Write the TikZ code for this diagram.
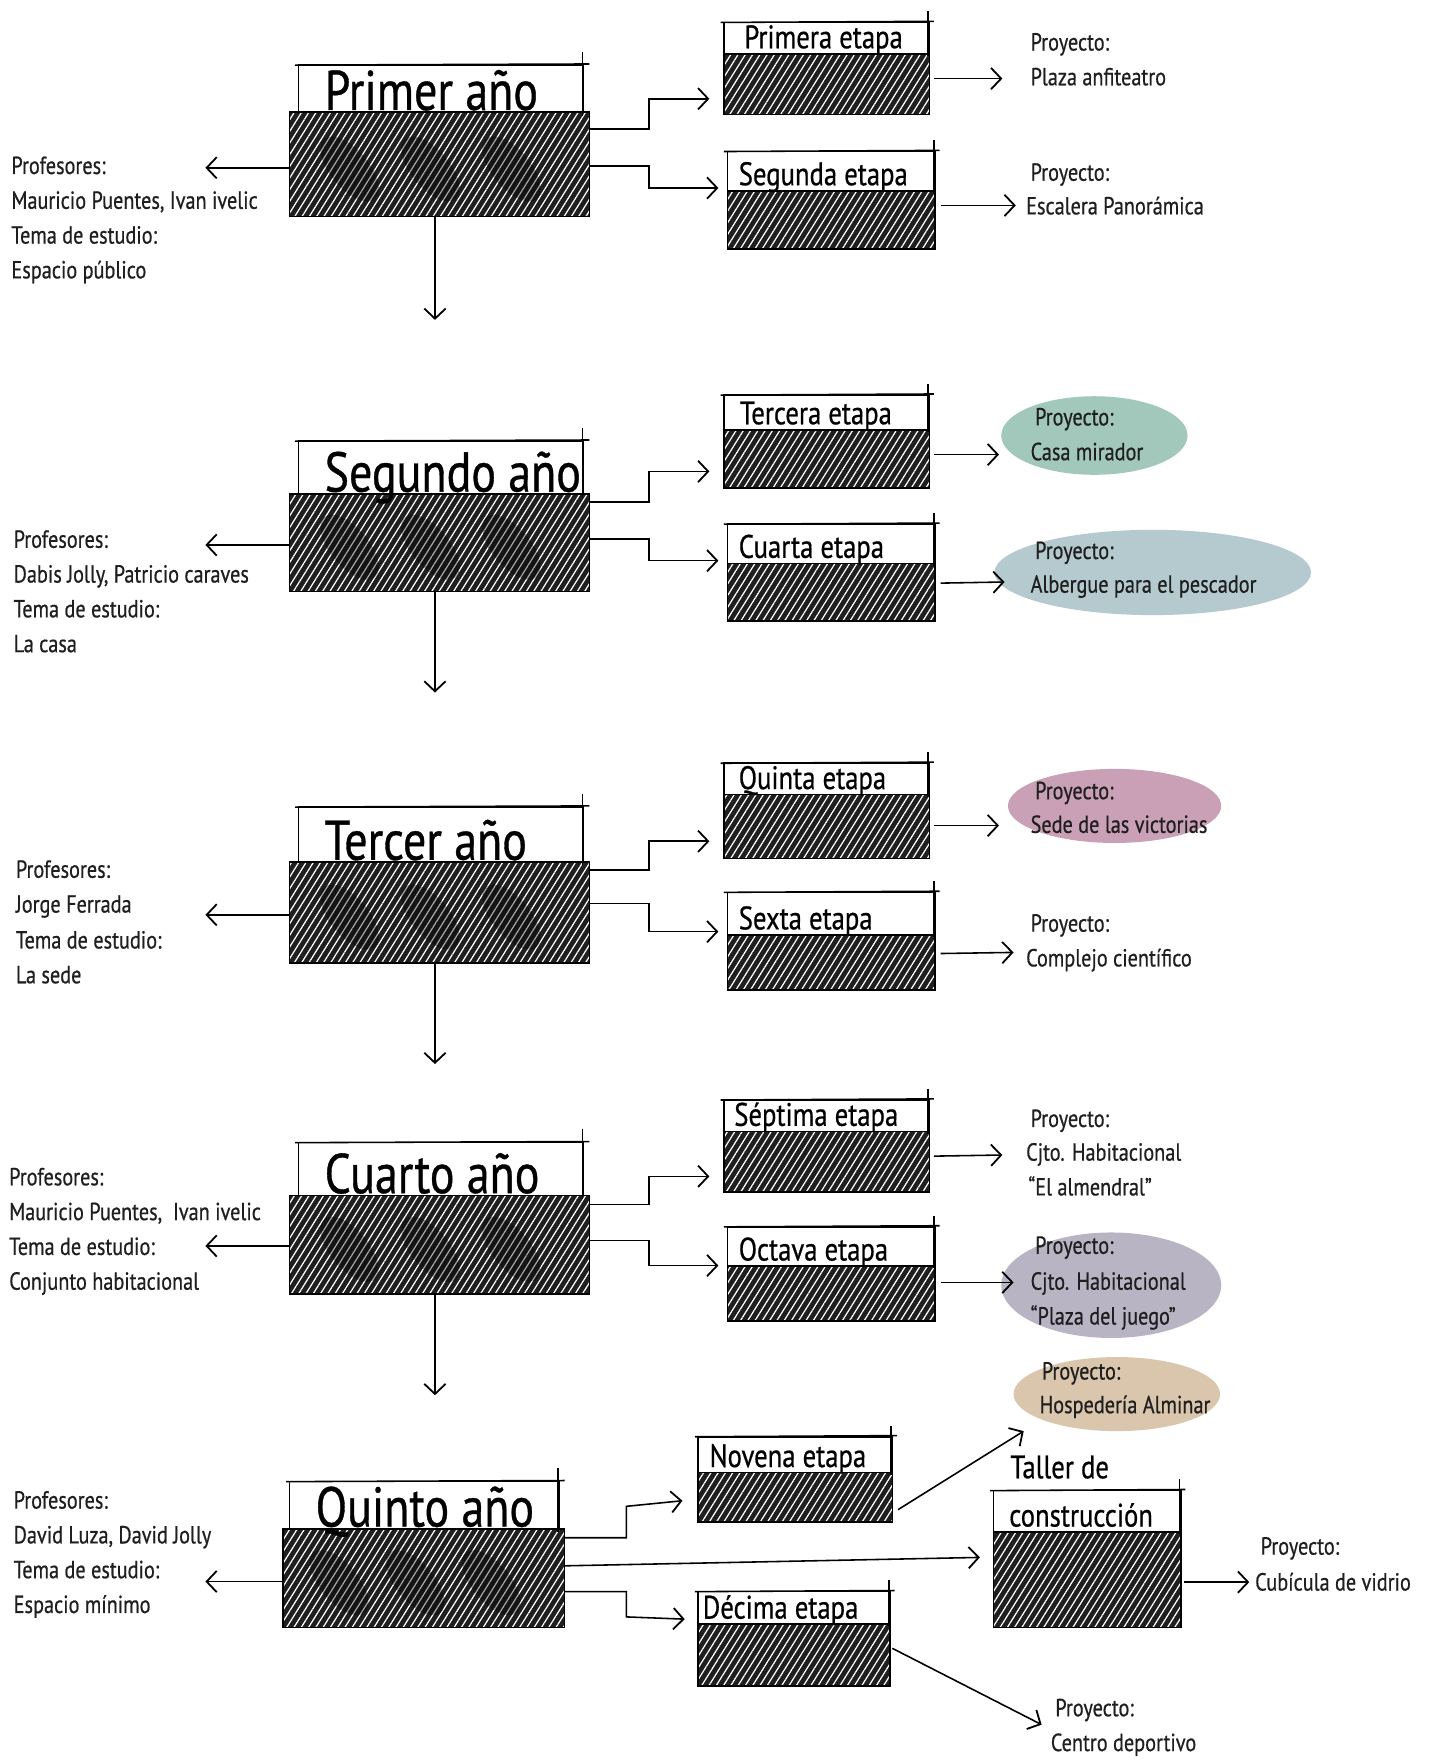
\documentclass[tikz,border=0pt]{standalone}
\usepackage{fontspec}
\setmainfont{PT Sans}[FakeStretch=0.82, FakeBold=0.6]
\usetikzlibrary{arrows.meta,patterns.meta,calc,shapes.geometric}
\definecolor{ink}{HTML}{1F1F1F}
\definecolor{cteal}{HTML}{A2C7BB}
\definecolor{cblue}{HTML}{B4CACE}
\definecolor{cpink}{HTML}{C9A0B6}
\definecolor{cpurp}{HTML}{B9B4C4}
\definecolor{ctan}{HTML}{D9C6AC}
\tikzset{
 sk/.style={line width=1.4pt, black},
 arr/.style={line width=1.4pt, black, -{Straight Barb[length=9pt,width=19pt,line width=1.6pt]}},
 hatchbox/.style={rectangle, inner sep=0pt, outer sep=0pt, fill=black!88,
   postaction={pattern={Lines[angle=58,distance=5.5pt,line width=1.1pt]}, pattern color=white},
   postaction={draw=black, line width=1.4pt}},
 headbox/.style={rectangle, inner sep=0pt, outer sep=0pt, fill=white, draw=black, line width=1.4pt},
 blob/.style={ellipse, inner sep=0pt, fill=black, opacity=0.35, rotate=40},
 ytitle/.style={font=\fontsize{50}{50}\selectfont, inner sep=0pt, text=black},
 stitle/.style={font=\fontsize{29}{29}\selectfont, inner sep=0pt, text=black},
 lbl/.style={font=\fontsize{22}{22}\selectfont, inner sep=0pt, text=ink, anchor=base west},
 proj/.style={ellipse, inner sep=0pt, draw=none},
}
\newcommand\yrblock[9]{%
  \node[hatchbox, anchor=north west, minimum width=#7pt-#6pt, minimum height=#8pt-#5pt] (#1b) at (#6,#5) {};
  \foreach \f [count=\k] in {0.2,0.47,0.74}
    \node[blob, minimum width=34pt, minimum height=70pt] (#1k\k) at ($(#1b.west)!\f!(#1b.east)+(0,4)$) {};
  \node[headbox, anchor=north west, minimum width=#3pt-#2pt, minimum height=#5pt-#4pt] (#1t) at (#2,#4) {};
  \draw[sk] ($(#1t.north west)+(-3,0)$) -- ($(#1t.north east)+(5,-1)$);
  \draw[sk] ($(#1t.north east)+(-1,-12)$) -- ($(#1t.south east)+(-1,3)$);
  \node[ytitle, anchor=base west] (#1l) at ($(#1t.south west)+(23,-2)$) {#9};
}
\newcommand\stblock[8]{%
  \node[hatchbox, anchor=north west, minimum width=#3pt-#2pt, minimum height=#6pt-#5pt] (#1b) at (#2,#5) {};
  \node[headbox, anchor=north west, minimum width=#3pt-#2pt, minimum height=#5pt-#4pt] (#1t) at (#2,#4) {};
  \draw[sk] ($(#1t.north west)+(-3,0)$) -- ($(#1t.north east)+(4,-1)$);
  \draw[sk] ($(#1t.north east)+(-1,-10)$) -- ($(#1t.south east)+(-1,2)$);
  \node[stitle, anchor=base west] (#1l) at ($(#1t.south west)+(#8,-5)$) {#7};
}
\begin{document}
\begin{tikzpicture}[x=1pt,y=-1pt]
\useasboundingbox (0,0) rectangle (1275,1568);
\fill[white] (0,0) rectangle (1275,1568);

% year blocks
\yrblock{y1}{266}{520}{58}{100}{258}{525}{193}{Primer año}
\yrblock{y2}{266}{520}{393}{440}{258}{525}{527}{Segundo año}
\yrblock{y3}{266}{520}{719}{768}{258}{525}{858}{Tercer año}
\yrblock{y4}{266}{520}{1018}{1065}{258}{525}{1153}{Cuarto año}
\yrblock{y5}{258}{498}{1320}{1362}{252}{503}{1450}{Quinto año}

% stage blocks
\stblock{s1}{645}{828}{20}{48}{102}{Primera etapa}{18}
\stblock{s2}{648}{833}{135}{170}{222}{Segunda etapa}{10}
\stblock{s3}{645}{828}{352}{383}{435}{Tercera etapa}{14}
\stblock{s4}{648}{833}{467}{502}{553}{Cuarta etapa}{10}
\stblock{s5}{645}{828}{680}{708}{765}{Quinta etapa}{13}
\stblock{s6}{648}{833}{795}{833}{882}{Sexta etapa}{10}
\stblock{s7}{645}{828}{980}{1008}{1062}{Séptima etapa}{9}
\stblock{s8}{648}{833}{1093}{1128}{1177}{Octava etapa}{10}
\stblock{s9}{622}{795}{1280}{1312}{1356}{Novena etapa}{10}
\stblock{s10}{622}{793}{1418}{1447}{1502}{Décima etapa}{4}
\stblock{tc}{885}{1052}{1328}{1365}{1450}{construcción}{14}
\node[stitle, anchor=base west] (tcx) at (900,1317) {Taller de};

% coloured project ellipses
\node[proj, fill=cteal, minimum width=166pt, minimum height=70pt] (e3) at (975,388) {};
\node[proj, fill=cblue, minimum width=282pt, minimum height=76pt] (e4) at (1027,510) {};
\node[proj, fill=cpink, minimum width=190pt, minimum height=66pt] (e5) at (993,718) {};
\node[proj, fill=cpurp, minimum width=196pt, minimum height=94pt] (e8) at (990,1145) {};
\node[proj, fill=ctan, minimum width=184pt, minimum height=66pt] (e9) at (995,1242) {};

% year -> stage connectors
\draw[arr] ($(y1b.north east)+(0,15)$) -| ($(s1b.west)+(-67,13)$) -- ($(s1b.west)+(-13,13)$);
\draw[arr] ($(y1b.north east)+(0,48)$) -| ($(s2t.west)+(-70,15)$) -- ($(s2t.west)+(-8,15)$);
\draw[arr] ($(y2b.north east)+(0,7)$) -| ($(s3b.west)+(-67,11)$) -- ($(s3b.west)+(-13,11)$);
\draw[arr] ($(y2b.north east)+(0,40)$) -| ($(s4t.west)+(-70,15)$) -- ($(s4t.west)+(-8,15)$);
\draw[arr] ($(y3b.north east)+(0,7)$) -| ($(s5b.west)+(-67,13)$) -- ($(s5b.west)+(-13,13)$);
\draw[arr] ($(y3b.north east)+(0,37)$) -| ($(s6t.west)+(-70,16)$) -- ($(s6t.west)+(-8,16)$);
\draw[arr] ($(y4b.north east)+(0,8)$) -| ($(s7b.west)+(-67,13)$) -- ($(s7b.west)+(-13,13)$);
\draw[arr] ($(y4b.north east)+(0,40)$) -| ($(s8t.west)+(-70,17)$) -- ($(s8t.west)+(-8,17)$);
\draw[arr] ($(y5b.north east)+(0,8)$) -| ($(s9b.west)+(-64,8)$) -- ($(s9b.west)+(-14,3)$);
\draw[arr] ($(y5b.north east)+(0,33)$) -- ($(tcb.west)+(-12,-20)$);
\draw[arr] ($(y5b.north east)+(0,56)$) -| ($(s10t.west)+(-64,8)$) -- ($(s10t.west)+(-12,10)$);

% left arrows
\draw[arr] ($(y1b.west)+(0,3)$) -- ($(y1b.west)+(-75,3)$);
\draw[arr] ($(y2b.west)+(0,2)$) -- ($(y2b.west)+(-75,2)$);
\draw[arr] ($(y3b.west)+(0,2)$) -- ($(y3b.west)+(-75,2)$);
\draw[arr] ($(y4b.west)+(0,1)$) -- ($(y4b.west)+(-75,1)$);
\draw[arr] ($(y5b.west)+(0,3)$) -- ($(y5b.west)+(-69,3)$);

% down arrows
\draw[arr] ($(y1b.south)+(-4,0)$) -- ++(0,92);
\draw[arr] ($(y2b.south)+(-4,0)$) -- ++(0,90);
\draw[arr] ($(y3b.south)+(-4,0)$) -- ++(0,90);
\draw[arr] ($(y4b.south)+(-4,0)$) -- ++(0,90);

% stage -> project arrows
\draw[arr] ($(s1b.east)+(4,-5)$) -- ($(s1b.east)+(65,-5)$);
\draw[arr] ($(s2b.east)+(5,-13)$) -- ($(s2b.east)+(72,-13)$);
\draw[arr] ($(s3b.east)+(4,-4)$) -- ($(s3b.east)+(62,-4)$);
\draw[arr] ($(s4b.east)+(5,-8)$) -- ($(s4b.east)+(62,-9)$);
\draw[arr] ($(s5b.east)+(4,-1)$) -- ($(s5b.east)+(62,-1)$);
\draw[arr] ($(s6b.east)+(5,-8)$) -- ($(s6b.east)+(70,-9)$);
\draw[arr] ($(s7b.east)+(4,-5)$) -- ($(s7b.east)+(65,-6)$);
\draw[arr] ($(s8b.east)+(5,-10)$) -- ($(s8b.east)+(70,-10)$);
\draw[arr] ($(s9b.east)+(5,11)$) -- ($(s9b.east)+(117,-59)$);
\draw[arr] ($(s10b.east)+(2,-6)$) -- ($(s10b.east)+(135,62)$);
\draw[arr] ($(tcb.east)+(3,2)$) -- ($(tcb.east)+(61,2)$);

% teacher labels
\node[lbl] (a1) at (10,155) {Profesores:};
\node[lbl] (a2) at (10,186) {Mauricio Puentes, Ivan ivelic};
\node[lbl] (a3) at (10,217) {Tema de estudio:};
\node[lbl] (a4) at (10,248) {Espacio público};
\node[lbl] (b1) at (12,488) {Profesores:};
\node[lbl] (b2) at (12,519) {Dabis Jolly, Patricio caraves};
\node[lbl] (b3) at (12,550) {Tema de estudio:};
\node[lbl] (b4) at (12,581) {La casa};
\node[lbl] (c1) at (14,782) {Profesores:};
\node[lbl] (c2) at (14,813) {Jorge Ferrada};
\node[lbl] (c3) at (14,845) {Tema de estudio:};
\node[lbl] (c4) at (14,876) {La sede};
\node[lbl] (d1) at (8,1056) {Profesores:};
\node[lbl] (d2) at (8,1087) {Mauricio Puentes,\ \ Ivan ivelic};
\node[lbl] (d3) at (8,1118) {Tema de estudio:};
\node[lbl] (d4) at (8,1149) {Conjunto habitacional};
\node[lbl] (f1) at (12,1344) {Profesores:};
\node[lbl] (f2) at (12,1375) {David Luza, David Jolly};
\node[lbl] (f3) at (12,1406) {Tema de estudio:};
\node[lbl] (f4) at (12,1437) {Espacio mínimo};

% project labels
\node[lbl] (p1a) at (918,45) {Proyecto:};
\node[lbl] (p1b) at (918,76) {Plaza anfiteatro};
\node[lbl] (p2a) at (918,161) {Proyecto:};
\node[lbl] (p2b) at (914,191) {Escalera Panorámica};
\node[lbl] (p3a) at (922,379) {Proyecto:};
\node[lbl] (p3b) at (918,410) {Casa mirador};
\node[lbl] (p4a) at (922,498) {Proyecto:};
\node[lbl] (p4b) at (918,528) {Albergue para el pescador};
\node[lbl] (p5a) at (922,712) {Proyecto:};
\node[lbl] (p5b) at (918,742) {Sede de las victorias};
\node[lbl] (p6a) at (918,830) {Proyecto:};
\node[lbl] (p6b) at (914,861) {Complejo científico};
\node[lbl] (p7a) at (918,1004) {Proyecto:};
\node[lbl] (p7b) at (914,1034) {Cjto. Habitacional};
\node[lbl] (p7c) at (916,1065) {“El almendral”};
\node[lbl] (p8a) at (922,1117) {Proyecto:};
\node[lbl] (p8b) at (918,1149) {Cjto. Habitacional};
\node[lbl] (p8c) at (918,1180) {“Plaza del juego”};
\node[lbl] (p9a) at (928,1229) {Proyecto:};
\node[lbl] (p9b) at (926,1259) {Hospedería Alminar};
\node[lbl] (p10a) at (940,1529) {Proyecto:};
\node[lbl] (p10b) at (936,1560) {Centro deportivo};
\node[lbl] (p11a) at (1123,1385) {Proyecto:};
\node[lbl] (p11b) at (1118,1417) {Cubícula de vidrio};
\end{tikzpicture}
\end{document}
